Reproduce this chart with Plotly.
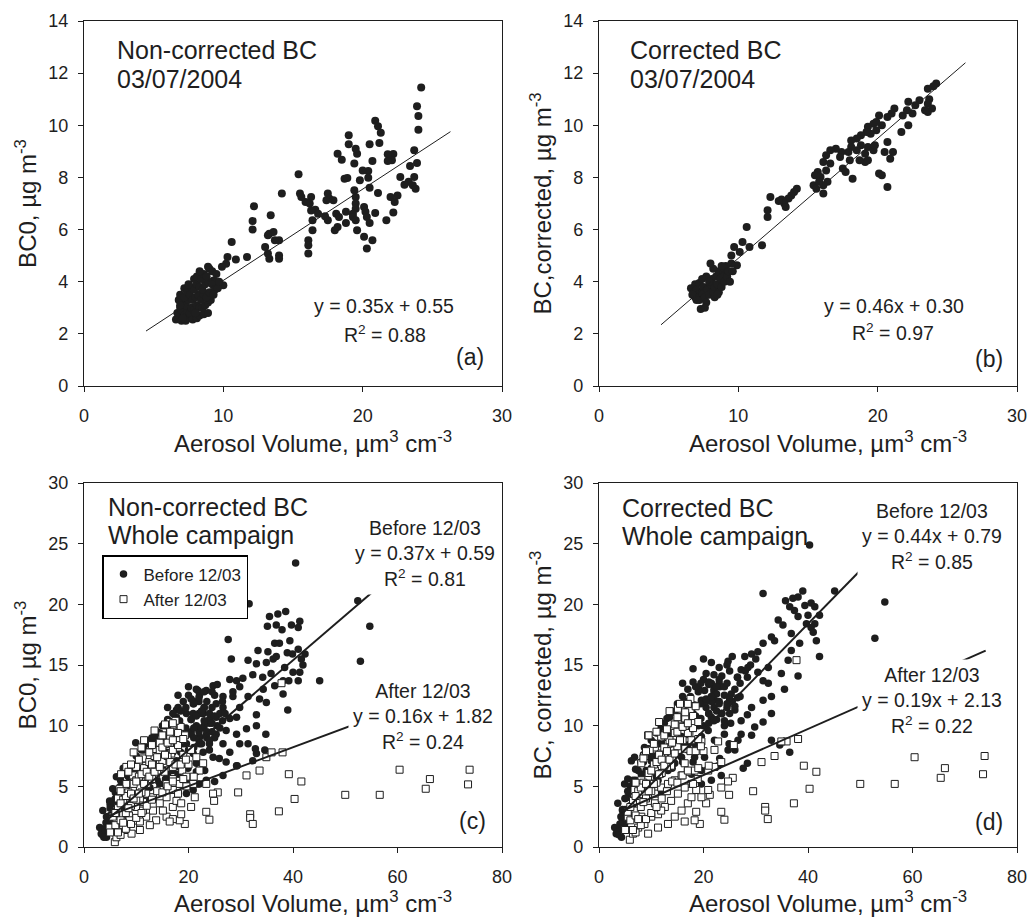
import plotly.graph_objects as go

FONT = "Liberation Sans, Arial, sans-serif"
INK = "#1e1e1e"

# ---------------- Panel (a): non-corrected BC, 03/07/2004 ----------------
a_x = [24.2, 23.9, 24.0, 24.0, 23.7, 23.9, 23.4, 23.7, 23.3, 23.6, 23.8, 23.0, 22.7, 22.5, 22.2, 21.8,
       22.1, 21.8, 22.0, 22.3, 22.2, 21.7, 20.9, 21.1, 21.3, 21.2, 20.5, 20.7, 20.4, 20.4, 20.5, 21.1,
       20.0, 19.8, 19.6, 19.5, 19.0, 19.0, 18.7, 18.9, 19.4, 19.4, 19.5, 19.5, 19.5, 19.3, 19.3, 18.8,
       18.8, 19.5, 19.6, 20.1, 20.2, 20.3, 20.5, 20.9, 20.1, 20.3, 20.7, 18.2, 18.5, 18.1, 18.3, 18.2,
       18.0, 17.5, 17.6, 17.4, 17.3, 17.5, 17.9, 16.6, 16.8, 16.4, 16.4, 16.1, 16.1, 16.1, 16.3, 16.2,
       15.9, 15.5, 15.6, 15.4, 16.3, 14.2, 14.0, 14.0, 14.0, 13.4, 13.3, 13.6, 13.7, 13.2, 13.0, 13.2,
       13.3, 12.2, 12.1, 12.1, 11.7, 10.9, 10.6, 10.3, 10.2, 9.9, 10.0, 9.6, 9.3, 8.9,
       6.6, 6.8, 7.0, 7.3, 7.5, 7.8, 8.1, 8.3, 8.6, 8.9, 6.7, 6.9, 7.0, 6.8, 6.9, 7.2, 7.0, 7.2, 7.4, 7.6,
       7.3, 7.5, 7.7, 7.9, 8.1, 8.3, 8.5, 8.7, 8.9, 9.1, 7.2, 7.4, 7.6, 7.8, 8.0, 8.2, 8.4, 8.6, 8.8, 9.0,
       7.7, 7.9, 8.1, 8.3, 8.5, 8.7, 8.9, 9.2, 9.4, 9.6, 7.9, 8.1, 8.4, 8.6, 8.8, 9.0, 9.2, 9.5, 9.7, 8.3,
       7.5, 6.9, 7.1, 9.3, 8.0]
a_y = [11.45, 10.73, 10.36, 9.83, 9.04, 8.55, 8.44, 8.02, 7.83, 7.70, 7.57, 7.72, 8.02, 7.31, 8.90, 8.89,
       8.66, 8.63, 7.25, 7.06, 6.65, 6.36, 10.17, 9.96, 9.71, 9.32, 9.27, 8.63, 8.25, 7.99, 7.60, 7.40,
       8.27, 7.89, 8.91, 9.10, 9.62, 9.27, 7.95, 7.98, 8.53, 7.51, 7.25, 7.00, 6.80, 6.61, 6.48, 6.68,
       6.25, 6.36, 5.97, 6.87, 6.68, 6.48, 6.25, 6.64, 5.72, 5.27, 5.59, 8.91, 8.68, 6.61, 6.48, 6.10,
       5.97, 7.38, 7.19, 7.12, 6.51, 6.36, 7.12, 6.76, 6.61, 6.36, 5.97, 5.59, 5.40, 5.08, 7.25, 7.00,
       7.06, 7.38, 7.25, 8.12, 6.73, 7.38, 5.59, 5.01, 4.88, 6.55, 5.84, 5.91, 5.59, 5.78, 5.33, 5.08,
       4.88, 6.89, 6.33, 6.00, 4.95, 4.85, 5.52, 4.95, 4.69, 4.57, 3.86, 3.80, 4.05, 4.57,
       2.55, 2.6, 2.5, 2.5, 2.6, 2.55, 2.6, 2.7, 2.75, 2.8, 2.8, 3.0, 3.2, 3.3, 3.5, 3.75, 2.9, 2.7, 2.9, 2.8,
       3.1, 3.3, 3.0, 2.9, 3.1, 3.0, 3.0, 3.1, 3.2, 3.3, 3.4, 3.6, 3.5, 3.3, 3.4, 3.5, 3.3, 3.5, 3.4, 3.6,
       3.8, 3.7, 3.9, 3.8, 3.7, 3.9, 4.0, 3.9, 3.7, 3.75, 4.1, 4.2, 4.1, 4.3, 4.2, 4.5, 4.4, 4.3, 4.0, 4.4,
       3.9, 3.1, 2.6, 3.5, 2.8]

# ---------------- Panel (b): corrected BC, 03/07/2004 ----------------
b_x = [24.2, 24.0, 23.6, 23.7, 23.6, 23.9, 23.6, 23.4, 23.0, 22.7, 22.5, 22.2, 21.8, 22.1, 22.2, 21.7,
       21.2, 21.0, 20.7, 21.1, 20.9, 20.7, 20.5, 20.7, 20.1, 20.3, 20.1, 19.9, 20.3, 19.7, 19.9, 19.3,
       19.5, 19.2, 18.8, 18.5, 18.1, 19.3, 19.7, 19.8, 18.8, 18.5, 19.1, 19.1, 19.3, 18.7, 18.1, 17.9,
       18.0, 18.2, 17.5, 17.7, 17.4, 17.3, 17.0, 16.6, 16.3, 16.6, 16.1, 16.3, 16.4, 15.7, 15.5, 15.9,
       15.4, 15.6, 16.1, 16.1, 15.8, 14.2, 14.0, 13.8, 13.6, 13.1, 13.3, 13.4, 12.9, 12.3, 12.1, 12.1,
       10.6, 10.3, 10.8, 11.7, 10.1, 9.7, 9.9, 9.5,
       6.6, 6.8, 6.9, 7.0, 7.1, 7.2, 7.2, 7.3, 7.4, 7.5, 7.6, 7.7, 7.8, 7.9, 8.0, 8.1, 8.2, 8.3, 8.3, 8.4,
       8.5, 8.6, 8.6, 8.7, 8.8, 8.9, 9.0, 9.0, 9.1, 9.2, 9.3, 9.4, 9.5, 8.2, 8.0, 7.7, 7.4, 6.9, 7.6, 8.5,
       7.0, 8.8, 9.6, 6.7, 7.9]
b_y = [11.6, 11.5, 11.4, 11.0, 10.83, 10.64, 10.51, 10.58, 10.96, 10.77, 10.45, 10.9, 10.38, 10.58, 10.0, 9.74,
       10.64, 10.45, 10.32, 8.98, 8.72, 9.36, 8.98, 7.63, 8.15, 8.08, 10.38, 9.81, 10.0, 10.06, 10.13, 9.94,
       9.68, 9.74, 9.62, 9.49, 9.42, 9.17, 9.04, 9.23, 9.23, 9.04, 8.91, 8.59, 8.66, 8.66, 9.17, 8.98,
       8.66, 7.95, 8.34, 8.21, 8.98, 8.78, 9.10, 9.04, 8.85, 8.53, 8.59, 8.27, 7.83, 8.21, 8.08, 8.02,
       7.70, 7.57, 7.70, 7.38, 7.83, 7.57, 7.44, 7.31, 7.19, 7.15, 7.00, 6.87, 7.10, 7.25, 6.74, 6.48,
       6.10, 5.52, 5.33, 5.40, 5.14, 5.33, 4.63, 5.01,
       3.75, 3.6, 3.9, 3.7, 3.5, 3.3, 3.95, 2.95, 3.6, 3.8, 3.4, 3.2, 3.7, 3.5, 3.9, 4.1, 3.6, 3.4, 3.8, 4.2,
       3.9, 3.6, 4.4, 4.1, 3.8, 4.3, 4.5, 4.0, 4.6, 4.2, 4.4, 4.0, 4.7, 4.5, 4.7, 4.2, 4.1, 3.4, 3.0, 3.5,
       3.3, 4.6, 4.4, 3.5, 4.0]

# ---------------- Panel (c): non-corrected BC, whole campaign ----------------
c_before_x = [40.5, 31.6, 52.4, 54.7, 52.9, 45.1, 27.6, 28.2, 35.5, 37.1, 38.6, 36.8, 37.9, 39.7, 41.3, 41.0,
              35.1, 35.2, 36.5, 37.4, 39.4, 41.0, 42.3, 41.6, 39.9, 38.9, 36.2, 33.3, 31.4, 33.0, 34.9, 36.8,
              38.4, 40.0, 41.9, 41.3, 41.0, 38.1, 36.5, 35.8, 34.2, 32.3, 30.4, 29.2, 27.9, 29.8, 31.4, 33.6,
              34.9, 34.3, 38.1, 39.2, 39.0, 34.8, 34.6, 33.0, 31.4, 29.8, 29.2, 31.1, 33.0, 33.0, 29.2, 27.9,
              27.2, 26.6, 27.9, 29.3, 27.2, 25.9, 24.0, 22.1, 24.0, 25.3, 24.7, 23.4, 22.1, 21.8, 20.9, 19.6,
              17.7, 18.3, 17.0, 15.6, 20.9, 22.8, 25.3, 26.6, 29.8, 28.5, 26.6, 20.5, 22.1, 23.4, 25.3, 19.6,
              18.5, 20.9, 22.8, 24.7, 21.5, 23.1, 21.5, 19.9, 18.3, 19.6, 21.8, 25.0, 26.6, 29.2, 32.3, 32.8,
              9.9, 12.6, 13.8, 15.1, 16.4, 17.7, 15.8, 7.5, 6.2, 4.9, 3.6, 3.3, 4.3, 4.9, 6.2, 8.1, 9.4, 10.7,
              11.9, 13.2, 14.5, 15.8, 17.0, 17.7, 18.9, 17.0, 15.6, 18.3, 19.6, 20.9, 22.1, 23.4, 14.5, 12.6,
              11.3, 9.4, 8.1, 6.8, 5.6, 4.3, 3.0, 3.6,
              21.0, 22.0, 23.0, 24.0, 22.5, 21.5, 20.5, 23.5, 24.5, 25.5, 26.0, 22.0, 23.0, 20.0, 19.0, 18.0,
              19.5, 21.0, 24.0, 25.0,
              8.0, 9.0, 10.0, 11.0, 12.0, 13.0, 14.0, 10.0, 12.0, 14.0, 16.0, 7.0, 8.0, 6.0, 5.0, 6.5, 7.5,
              9.5, 11.5, 13.5, 15.0, 16.0, 17.0, 5.5, 4.5, 4.0, 7.0, 12.0, 15.0, 18.0,
              10, 11, 12, 13, 14, 15, 16, 17, 18, 19, 20, 21, 22, 23, 24, 25,
              10.5, 12.5, 14.5, 16.5, 18.5, 20.5, 22.5, 24.5, 26.5, 28.5,
              9, 11, 13, 15, 17, 19, 21, 23, 25, 27,
              20.5, 21.5, 22.5, 23.5, 24.5, 19.5, 18.5, 21, 22, 23,
              6, 7, 8, 9, 5, 6, 7, 4.5, 5.5, 8.5,
              3.5, 4, 4.5, 5, 3.8, 4.2, 5.5, 6.5, 7.5, 8.5, 9.5, 10.5, 11.5, 12.5, 13.5, 14.5, 15.5,
              16.5, 17.5, 18.5, 19.5, 20.5, 21.5, 22.5, 23.5, 24.5, 25.5, 26.5, 16, 18, 20, 22, 24, 26]
c_before_y = [23.4, 20.05, 20.3, 18.2, 15.3, 13.7, 17.1, 15.5, 19.0, 19.2, 19.4, 18.3, 17.9, 18.3, 18.6, 18.1,
              18.2, 16.1, 16.8, 16.8, 17.0, 16.3, 15.9, 15.5, 15.9, 16.0, 15.5, 16.2, 15.4, 15.1, 15.2, 15.7,
              14.8, 14.4, 15.0, 14.4, 13.7, 13.7, 13.3, 14.3, 14.0, 14.2, 13.9, 13.7, 13.8, 13.2, 12.4, 12.2,
              11.9, 13.0, 12.6, 13.7, 11.3, 9.3, 8.0, 7.7, 8.5, 8.5, 9.3, 9.75, 10.0, 10.9, 10.7, 10.6,
              9.6, 8.5, 7.8, 6.7, 7.0, 7.3, 8.5, 8.5, 10.2, 11.8, 13.3, 12.9, 12.5, 12.9, 11.8, 11.0,
              11.3, 10.4, 9.9, 10.0, 11.0, 11.0, 10.7, 11.5, 11.5, 12.4, 12.4, 9.3, 9.1, 9.2, 9.3, 8.5,
              7.8, 7.7, 7.8, 7.4, 6.9, 6.3, 6.2, 6.5, 6.6, 5.5, 5.2, 5.4, 5.9, 6.7, 7.1, 8.1,
              8.6, 8.8, 8.7, 8.5, 9.6, 10.7, 9.2, 6.5, 5.8, 3.8, 3.0, 1.1, 0.8, 1.6, 2.5, 3.8, 5.2, 5.8,
              6.3, 6.9, 7.4, 7.8, 8.2, 7.1, 7.4, 6.3, 5.6, 5.2, 4.4, 4.7, 5.2, 5.5, 5.2, 4.9,
              4.1, 3.6, 3.0, 2.7, 3.6, 2.5, 1.6, 1.4,
              9.0, 9.5, 10.0, 10.5, 8.5, 10.0, 9.5, 9.0, 9.5, 10.0, 11.0, 11.0, 11.5, 8.0, 8.5, 9.0,
              9.8, 8.2, 8.0, 9.0,
              4.5, 5.0, 5.5, 6.0, 6.5, 7.0, 7.5, 4.5, 5.0, 5.5, 6.0, 5.0, 6.0, 4.5, 3.5, 3.0, 4.0,
              6.2, 7.2, 8.0, 8.5, 7.0, 7.8, 2.0, 2.2, 1.2, 2.0, 4.0, 6.5, 6.0,
              7.5, 8, 8.5, 9, 9.5, 10, 10.5, 11, 11.5, 12, 12.5, 12, 12, 11.5, 11, 12.5,
              6.5, 7.5, 8, 9, 9.5, 10.5, 11, 11.5, 12, 12.8,
              4, 4.8, 5.5, 6.8, 7, 8.8, 9.8, 10.4, 10.8, 11,
              10.5, 10.8, 9.8, 9.5, 10.2, 9.2, 10, 11.8, 12.3, 12.8,
              2.8, 3.2, 4.2, 4.8, 2.6, 4, 5.5, 1.8, 4.8, 6.4,
              1.0, 1.5, 2.5, 3.2, 0.8, 2.0, 3.8, 4.5, 5.2, 5.8, 6.8, 7.2, 8.0, 8.6, 9.0, 9.4, 9.0,
              10.2, 10.5, 11.2, 11.5, 12.2, 13.0, 11.2, 12.0, 12.8, 13.4, 10.4, 11.5, 12.5, 13.2, 8.8, 8.8, 9.8]
c_after_x = [60.4, 66.2, 65.4, 73.8, 73.5, 56.6, 50.0, 41.6, 40.3, 39.2, 37.3, 33.6, 31.1, 31.8, 31.8, 32.3,
             29.5, 25.6, 24.7, 24.9, 23.4, 24.0, 21.2, 20.5, 19.3, 18.3, 18.6, 34.9, 35.9, 38.0, 37.8, 16.5,
             17.3, 17.7, 16.4, 15.1, 13.2, 13.2, 11.9, 11.3, 10.0, 9.4, 8.1, 6.8, 6.5, 9.4, 10.7, 12.2,
             13.8, 15.4, 17.0, 18.9, 18.8, 19.6, 18.3, 17.0, 15.8, 14.5, 13.2, 11.9, 10.7, 9.4, 8.1, 6.8,
             5.9, 6.2, 7.5, 8.6, 10.0, 11.3, 13.2, 14.5, 15.8, 17.0, 11.9, 10.7, 8.1, 7.5, 6.2, 4.9,
             8.7, 13.8, 15.8, 17.0, 15.1, 17.0, 17.7, 18.6, 16.4, 11.3, 8.1, 7.1, 8.1, 10.0, 11.3, 12.9,
             13.8, 12.6, 15.1, 15.8, 16.7, 18.0, 18.3, 18.3, 19.3, 20.5, 21.5, 22.8, 22.1, 23.4, 20.9, 19.6,
             12.6, 10.7, 9.1,
             5.5, 6.5, 7.5, 8.5, 9.5, 10.5, 11.5, 12.5, 13.5, 14.5, 15.5, 16.5, 17.5, 18.5,
             6, 7, 8, 9, 10, 11, 12, 13, 14, 15, 16, 17, 18, 19,
             7, 8, 9, 10, 11, 12, 13, 14, 15, 16, 17, 18,
             8.5, 10.5, 12.5, 14.5, 16.5, 9.5, 11.5, 13.5, 15.5, 17.5,
             5, 6, 7, 8, 9, 10, 11, 12, 13, 14, 15, 16, 17, 18, 19, 20,
             6.5, 7.5, 8.5, 9.5, 10.5, 11.5, 12.5, 13.5, 14.5, 15.5, 16.5, 17.5, 18.5, 19.5,
             7, 9, 11, 13, 15, 17, 19, 21]
c_after_y = [6.37, 5.6, 4.8, 6.37, 5.16, 4.3, 4.3, 5.4, 3.96, 6.0, 2.94, 6.3, 5.9, 2.7, 2.4, 1.9,
             4.5, 4.5, 4.4, 3.8, 2.9, 2.25, 4.1, 3.3, 1.9, 2.2, 2.7, 7.4, 7.8, 7.8, 13.5, 10.3,
             9.75, 9.1, 8.5, 7.8, 7.8, 7.1, 6.7, 7.3, 6.6, 5.9, 5.2, 4.8, 4.0, 4.7, 4.9, 5.6,
             6.0, 6.2, 6.6, 7.0, 6.3, 5.8, 5.2, 4.7, 4.1, 3.6, 3.0, 2.5, 2.1, 1.6, 1.4, 1.4,
             0.4, 0.8, 1.8, 2.6, 3.3, 3.7, 4.1, 4.7, 5.2, 5.6, 4.4, 4.0, 3.6, 2.7, 2.2, 1.6,
             2.2, 2.2, 2.5, 2.3, 3.0, 3.3, 3.8, 3.6, 2.1, 3.0, 4.4, 6.0, 6.6, 5.5, 6.2, 6.6,
             8.0, 7.4, 7.1, 6.9, 7.7, 8.2, 8.8, 9.6, 9.2, 8.0, 7.4, 6.9, 6.3, 5.2, 5.2, 5.0,
             1.8, 1.4, 1.1,
             2.5, 3.2, 3.9, 4.5, 5.2, 5.8, 6.5, 7.0, 7.5, 8.0, 8.5, 9.0, 9.5, 9.9,
             1.8, 2.2, 2.8, 3.4, 3.9, 4.5, 5.2, 5.6, 6.3, 7.1, 7.5, 8.0, 8.4, 7.6,
             1.0, 1.5, 1.9, 2.4, 2.8, 3.4, 3.9, 4.6, 4.5, 5.0, 5.4, 4.4,
             6.2, 7.2, 7.8, 8.6, 9.5, 7.8, 8.8, 9.6, 10.1, 10.4,
             1.2, 2.8, 3.6, 4.2, 4.4, 5.4, 6.0, 6.2, 6.8, 7.4, 8.2, 8.6, 8.8, 9.4, 8.9, 6.8,
             1.2, 2.0, 3.2, 4.0, 4.4, 5.2, 5.8, 6.2, 6.6, 7.6, 7.0, 6.8, 6.8, 7.2,
             4.6, 6.8, 8.2, 8.4, 9.2, 10.2, 5.6, 5.8]

# ---------------- Panel (d): corrected BC, whole campaign ----------------
d_before_x = [40.3, 45.1, 54.7, 52.8, 31.4, 39.0, 37.1, 35.7, 38.1, 36.5, 37.4, 39.4, 40.6, 41.3, 40.0, 38.1,
              42.2, 41.3, 39.7, 40.6, 41.0, 41.6, 42.2, 34.3, 35.2, 36.8, 38.4, 36.8, 36.2, 34.9, 35.5, 38.1,
              33.6, 33.0, 31.4, 30.4, 29.2, 27.9, 24.7, 27.2, 28.4, 30.4, 32.4, 32.4, 31.4, 33.0, 31.4, 33.0,
              31.4, 29.2, 28.4, 29.8, 29.2, 27.2, 27.2, 26.0, 24.7, 25.3, 23.1, 21.5, 22.1, 20.2, 19.1, 19.6,
              18.3, 17.0, 15.6, 21.5, 23.4, 25.2, 24.0, 22.1, 24.9, 26.6, 28.4, 27.6, 26.0, 24.7, 23.1, 22.8,
              20.2, 18.3, 36.5, 34.6, 33.0, 19.6, 17.7, 19.6, 21.5, 23.4, 11.9, 13.2, 15.8, 6.2, 6.8, 8.7,
              10.7, 10.0, 9.0, 8.1, 4.9, 3.6, 3.3, 4.3, 4.9, 5.9, 7.5, 9.4, 11.3, 13.2, 14.5, 15.8,
              17.0, 18.3, 19.6, 20.9, 5.5, 6.8, 8.1, 4.3, 3.0,
              21.0, 22.0, 23.0, 24.0, 22.5, 21.5, 20.5, 23.5, 24.5, 25.5, 26.0, 22.0, 23.0, 20.0, 19.0, 18.0,
              19.5, 21.0, 24.0, 25.0, 27.0, 28.0, 29.0, 26.5, 30.0,
              8.0, 9.0, 10.0, 11.0, 12.0, 13.0, 14.0, 10.0, 12.0, 14.0, 16.0, 7.0, 8.0, 6.0, 5.0, 6.5, 7.5,
              9.5, 11.5, 13.5, 15.0, 16.0, 17.0, 5.5, 4.5, 4.0, 7.0, 12.0, 15.0, 18.0,
              10, 11, 12, 13, 14, 15, 16, 17, 18, 19, 20, 21, 22, 23, 24, 25,
              10.5, 12.5, 14.5, 16.5, 18.5, 20.5, 22.5, 24.5, 26.5, 28.5,
              9, 11, 13, 15, 17, 19, 21, 23, 25, 27,
              20.5, 21.5, 22.5, 23.5, 24.5, 19.5, 18.5, 21, 22, 23,
              6, 7, 8, 9, 5, 6, 7, 4.5, 5.5, 8.5,
              3.5, 4, 4.5, 5, 3.8, 4.2, 5.5, 6.5, 7.5, 8.5, 9.5, 10.5, 11.5, 12.5, 13.5, 14.5, 15.5,
              16.5, 17.5, 18.5, 19.5, 20.5, 21.5, 22.5, 23.5, 24.5, 25.5, 26.5, 16, 18, 20, 22, 24, 26]
d_before_y = [24.9, 21.1, 20.2, 17.2, 20.9, 21.1, 20.5, 20.3, 20.6, 19.8, 19.5, 19.9, 20.1, 19.8, 19.1, 19.0,
              19.1, 18.4, 18.4, 18.1, 17.7, 17.0, 15.7, 18.7, 18.3, 17.6, 16.8, 16.2, 15.4, 14.3, 13.0, 14.1,
              17.0, 17.3, 16.8, 16.1, 15.9, 15.7, 15.3, 14.6, 14.0, 14.4, 14.8, 13.5, 13.7, 12.4, 12.1, 11.0,
              10.3, 11.5, 10.9, 9.9, 9.2, 9.3, 10.4, 11.3, 11.8, 12.6, 13.2, 13.5, 12.1, 12.9, 13.0, 12.1,
              11.7, 11.3, 10.7, 10.7, 11.0, 10.2, 9.3, 8.8, 8.5, 8.8, 6.9, 6.5, 8.0, 8.0, 7.3, 6.7,
              7.4, 7.4, 7.8, 8.4, 8.8, 6.3, 6.0, 5.2, 5.5, 5.9, 9.9, 9.5, 9.1, 7.1, 7.4, 8.2,
              8.5, 7.1, 6.3, 5.5, 5.2, 3.6, 1.1, 0.8, 1.9, 2.7, 3.8, 4.7, 5.5, 6.3, 6.9, 7.4,
              8.0, 8.5, 9.1, 9.6, 4.1, 4.9, 6.0, 2.5, 1.6,
              11.0, 11.5, 12.0, 12.5, 10.5, 12.0, 11.5, 11.0, 11.5, 12.0, 13.0, 13.0, 13.5, 10.0, 10.5, 11.0,
              11.8, 10.2, 10.0, 11.0, 13.5, 14.5, 15.0, 14.0, 15.5,
              5.0, 5.5, 6.5, 7.0, 7.5, 8.0, 8.5, 5.0, 6.0, 6.5, 7.0, 5.5, 7.0, 5.0, 4.0, 3.5, 4.5,
              7.5, 8.5, 9.0, 10.0, 8.5, 9.5, 2.5, 3.0, 1.5, 2.5, 4.5, 8.0, 7.0,
              8.8, 9.4, 10, 10.6, 11.2, 11.8, 12.4, 13, 13.6, 12.8, 13.8, 13.4, 12.8, 13.8, 13.2, 14.5,
              7.5, 8.5, 9.2, 10.2, 10.8, 12, 12.6, 13.5, 14, 14.8,
              4.8, 5.8, 6.6, 7.8, 8.4, 10, 11, 11.8, 12.2, 12.4,
              12.2, 12.4, 11.2, 11, 11.8, 10.6, 11.6, 13.6, 14.2, 14.8,
              3.4, 3.8, 5, 5.6, 3.1, 4.6, 6.4, 2.2, 5.6, 7.6,
              1.2, 1.9, 3.1, 4.0, 1.0, 2.5, 4.6, 5.5, 6.3, 7.0, 8.1, 8.6, 9.5, 10.2, 10.7, 11.1, 10.7,
              12.0, 12.4, 13.2, 13.5, 14.3, 15.2, 13.2, 14.1, 15.0, 15.7, 12.3, 13.5, 14.7, 15.5, 10.4, 10.4, 11.6]
d_after_x = [60.4, 66.2, 65.4, 73.8, 73.5, 56.6, 50.0, 41.6, 40.3, 39.2, 37.3, 33.6, 31.1, 31.8, 31.8, 32.3,
             29.5, 25.6, 24.7, 24.9, 23.4, 24.0, 21.2, 20.5, 19.3, 18.3, 18.6, 38.1, 35.9, 34.9, 37.8, 15.1,
             15.1, 9.4, 16.4, 17.3, 17.7, 19.6, 22.8, 25.8, 22.1, 14.5, 13.2, 11.9, 10.7, 9.7, 11.9, 13.8,
             15.1, 16.4, 13.8, 11.9, 10.7, 9.4, 8.1, 6.8, 7.5, 9.4, 10.7, 11.9, 13.2, 14.5, 15.8, 17.0,
             18.3, 18.9, 17.7, 16.4, 15.1, 13.8, 12.6, 11.3, 10.0, 8.7, 7.5, 6.2, 5.9, 6.5, 8.1, 6.8,
             5.5, 10.7, 11.9, 15.8, 17.0, 14.5, 16.4, 17.7, 18.6, 19.6, 20.9, 23.4, 22.1, 23.4, 20.9, 13.2,
             11.3, 9.4, 8.1, 8.7,
             5.5, 6.5, 7.5, 8.5, 9.5, 10.5, 11.5, 12.5, 13.5, 14.5, 15.5, 16.5, 17.5, 18.5,
             6, 7, 8, 9, 10, 11, 12, 13, 14, 15, 16, 17, 18, 19,
             7, 8, 9, 10, 11, 12, 13, 14, 15, 16, 17, 18,
             8.5, 10.5, 12.5, 14.5, 16.5, 9.5, 11.5, 13.5, 15.5, 17.5,
             5, 6, 7, 8, 9, 10, 11, 12, 13, 14, 15, 16, 17, 18, 19, 20,
             6.5, 7.5, 8.5, 9.5, 10.5, 11.5, 12.5, 13.5, 14.5, 15.5, 16.5, 17.5, 18.5, 19.5,
             7, 9, 11, 13, 15, 17, 19, 21]
d_after_y = [7.4, 6.5, 5.7, 7.5, 6.0, 5.2, 5.2, 6.2, 4.8, 6.7, 3.6, 7.5, 7.0, 3.3, 3.0, 2.3,
             4.6, 5.7, 5.4, 4.3, 2.9, 2.25, 4.3, 3.6, 1.9, 2.2, 2.9, 8.9, 8.7, 8.7, 15.4, 11.4,
             10.4, 9.2, 9.9, 9.3, 8.8, 8.7, 8.7, 8.4, 8.0, 9.1, 8.5, 9.1, 8.2, 8.0, 7.7, 7.4,
             8.0, 6.9, 6.7, 6.5, 6.3, 5.8, 5.5, 4.7, 3.8, 3.8, 4.4, 4.9, 5.2, 5.5, 5.9, 6.2,
             6.3, 5.6, 5.2, 4.9, 4.4, 3.8, 3.3, 2.7, 2.5, 1.9, 1.6, 1.4, 0.6, 1.1, 2.5, 3.0,
             2.5, 3.6, 3.0, 3.0, 3.6, 2.5, 2.1, 4.1, 4.7, 4.1, 4.7, 4.9, 6.6, 7.0, 6.3, 1.9,
             1.6, 1.1, 6.9, 7.5,
             2.9, 3.8, 4.6, 5.3, 6.1, 6.8, 7.6, 8.2, 8.8, 9.4, 10.0, 10.6, 11.2, 11.6,
             2.2, 2.6, 3.3, 4.0, 4.6, 5.3, 6.1, 6.6, 7.4, 8.3, 8.8, 9.4, 9.8, 8.9,
             1.2, 1.8, 2.3, 2.8, 3.3, 4.0, 4.6, 5.4, 5.3, 5.9, 6.3, 5.2,
             7.3, 8.5, 9.2, 10.1, 11.1, 9.2, 10.3, 11.2, 11.8, 12.2,
             1.4, 3.3, 4.2, 4.9, 5.2, 6.3, 7.0, 7.2, 7.9, 8.6, 9.5, 9.9, 10.2, 10.8, 10.3, 7.9,
             1.4, 2.3, 3.7, 4.6, 5.2, 6.0, 6.7, 7.2, 7.7, 8.8, 8.1, 7.9, 7.9, 8.3,
             5.3, 7.9, 9.5, 9.7, 10.7, 11.8, 6.5, 6.7]

# ---------------- Regression fits: (slope, intercept, x start, x end) ----------------
fit_a = (0.35, 0.55, 4.45, 26.3)
fit_b = (0.46, 0.30, 4.45, 26.3)
fit_c_before = (0.37, 0.59, 4.3, 55.0)
fit_c_after = (0.16, 1.82, 4.3, 74.0)
fit_d_before = (0.44, 0.79, 4.3, 55.0)
fit_d_after = (0.19, 2.13, 4.3, 74.0)

# ---------------- Axis ticks ----------------
top_xticks = [0, 10, 20, 30]
top_yticks = [0, 2, 4, 6, 8, 10, 12, 14]
bot_xticks = [0, 20, 40, 60, 80]
bot_yticks = [0, 5, 10, 15, 20, 25, 30]

x_title = "&nbsp;" * 6 + "Aerosol Volume, µm<sup>3</sup> cm<sup>-3</sup>"
y_titles = ["BC0, µg m<sup>-3</sup>", "BC,corrected, µg m<sup>-3</sup>",
            "BC0, µg m<sup>-3</sup>", "BC, corrected, µg m<sup>-3</sup>"]

W, H = 1029, 917
# plot-area pixel boxes (left, right, top, bottom)
boxes = [(84, 502, 21, 386), (599, 1017, 21, 386), (84, 502, 483, 847), (599, 1017, 483, 847)]

fig = go.Figure()

dot = dict(symbol="circle", size=8, color=INK, line=dict(width=0))
dot_small = dict(symbol="circle", size=7.5, color=INK, line=dict(width=0))
sq = dict(symbol="square", size=7, color="white", line=dict(color=INK, width=1))


def fit_line(fit, xa, ya, width):
    s, b, x0, x1 = fit
    fig.add_trace(go.Scatter(x=[x0, x1], y=[s * x0 + b, s * x1 + b], mode="lines",
                             line=dict(color=INK, width=width), showlegend=False,
                             hoverinfo="skip", xaxis=xa, yaxis=ya))


fig.add_trace(go.Scatter(x=a_x, y=a_y, mode="markers", marker=dot, showlegend=False, xaxis="x", yaxis="y"))
fit_line(fit_a, "x", "y", 1)
fig.add_trace(go.Scatter(x=b_x, y=b_y, mode="markers", marker=dot, showlegend=False, xaxis="x2", yaxis="y2"))
fit_line(fit_b, "x2", "y2", 1)

fig.add_trace(go.Scatter(x=c_before_x, y=c_before_y, mode="markers", marker=dot_small,
                         name="Before 12/03", showlegend=True, xaxis="x3", yaxis="y3"))
fig.add_trace(go.Scatter(x=c_after_x, y=c_after_y, mode="markers", marker=sq,
                         name="After 12/03", showlegend=True, xaxis="x3", yaxis="y3"))
fit_line(fit_c_before, "x3", "y3", 2)
fit_line(fit_c_after, "x3", "y3", 2)

fig.add_trace(go.Scatter(x=d_before_x, y=d_before_y, mode="markers", marker=dot_small,
                         showlegend=False, xaxis="x4", yaxis="y4"))
fig.add_trace(go.Scatter(x=d_after_x, y=d_after_y, mode="markers", marker=sq,
                         showlegend=False, xaxis="x4", yaxis="y4"))
fit_line(fit_d_before, "x4", "y4", 2)
fit_line(fit_d_after, "x4", "y4", 2)

tickfont = dict(family=FONT, size=18, color=INK)
titlefont = dict(family=FONT, size=24, color=INK)

layout_axes = {}
ranges = [([0, 30], [0, 14], top_xticks, top_yticks), ([0, 30], [0, 14], top_xticks, top_yticks),
          ([0, 80], [0, 30], bot_xticks, bot_yticks), ([0, 80], [0, 30], bot_xticks, bot_yticks)]
for i, (box, (xr, yr, xt, yt)) in enumerate(zip(boxes, ranges)):
    l, r, t, b = box
    sfx = "" if i == 0 else str(i + 1)
    common = dict(showgrid=False, zeroline=False, showline=True, linecolor=INK, linewidth=1.3,
                  mirror=True, ticks="outside", ticklen=5, tickwidth=1.3, tickcolor=INK,
                  tickfont=tickfont, fixedrange=True, automargin=False)
    layout_axes["xaxis" + sfx] = dict(common, domain=[l / W, r / W], range=xr, tickvals=xt,
                                      anchor="y" + sfx, ticklabelstandoff=8,
                                      title=dict(text=x_title, font=titlefont, standoff=10))
    layout_axes["yaxis" + sfx] = dict(common, domain=[1 - b / H, 1 - t / H], range=yr, tickvals=yt,
                                      anchor="x" + sfx, ticklabelstandoff=6,
                                      title=dict(text=y_titles[i], font=titlefont, standoff=4))

ann = []


def txt(text, x, y, xa, ya, size, xanchor="center", align="center", bg=None):
    d = dict(text=text, x=x, y=y, xref=xa, yref=ya, showarrow=False, xanchor=xanchor,
             yanchor="middle", align=align, font=dict(family=FONT, size=size, color=INK))
    if bg:
        d.update(bgcolor=bg, borderpad=4)
    ann.append(d)


# Panel (a)
txt("Non-corrected BC", 2.23, 12.89, "x", "y", 25, "left")
txt("03/07/2004", 2.23, 11.76, "x", "y", 25, "left")
txt("y = 0.35x + 0.55", 21.5, 3.05, "x", "y", 19.5)
txt("R<sup>2</sup> = 0.88", 21.6, 2.01, "x", "y", 19.5)
txt("(a)", 28.86, 1.13, "x", "y", 23, "right")
# Panel (b)
txt("Corrected BC", 2.08, 12.89, "x2", "y2", 25, "left")
txt("03/07/2004", 2.08, 11.76, "x2", "y2", 25, "left")
txt("y = 0.46x + 0.30", 21.2, 3.05, "x2", "y2", 19.5)
txt("R<sup>2</sup> = 0.97", 21.1, 2.08, "x2", "y2", 19.5)
txt("(b)", 29.15, 1.05, "x2", "y2", 23, "right")
# Panel (c)
txt("Non-corrected BC", 4.2, 27.99, "x3", "y3", 25, "left")
txt("Whole campaign", 4.2, 25.68, "x3", "y3", 25, "left")
txt("Before 12/03<br>y = 0.37x + 0.59<br>R<sup>2</sup> = 0.81", 65.2, 24.2, "x3", "y3", 19.5, bg="white")
txt("After 12/03<br>y = 0.16x + 1.82<br>R<sup>2</sup> = 0.24", 64.8, 10.75, "x3", "y3", 19.5, bg="white")
txt("(c)", 77.3, 2.18, "x3", "y3", 23, "right")
# Panel (d)
txt("Corrected BC", 4.0, 27.9, "x4", "y4", 25, "left")
txt("Whole campaign", 4.0, 25.6, "x4", "y4", 25, "left")
txt("Before 12/03<br>y = 0.44x + 0.79<br>R<sup>2</sup> = 0.85", 63.7, 25.6, "x4", "y4", 19.5, bg="white")
txt("After 12/03<br>y = 0.19x + 2.13<br>R<sup>2</sup> = 0.22", 63.7, 12.05, "x4", "y4", 19.5, bg="white")
txt("(d)", 77.7, 2.1, "x4", "y4", 23, "right")

fig.update_layout(
    width=W, height=H, margin=dict(l=0, r=0, t=0, b=0),
    paper_bgcolor="white", plot_bgcolor="white",
    font=dict(family=FONT, color=INK),
    showlegend=True,
    legend=dict(x=102 / W, y=1 - 555 / H, xanchor="left", yanchor="top",
                bordercolor="#000000", borderwidth=1.5, bgcolor="white",
                font=dict(family=FONT, size=17, color=INK),
                itemwidth=30, tracegroupgap=0, itemsizing="trace"),
    annotations=ann,
    **layout_axes,
)

fig.write_html("out.html", config={"displayModeBar": False},
               post_script="document.body.style.margin='0';document.body.style.overflow='hidden';")
